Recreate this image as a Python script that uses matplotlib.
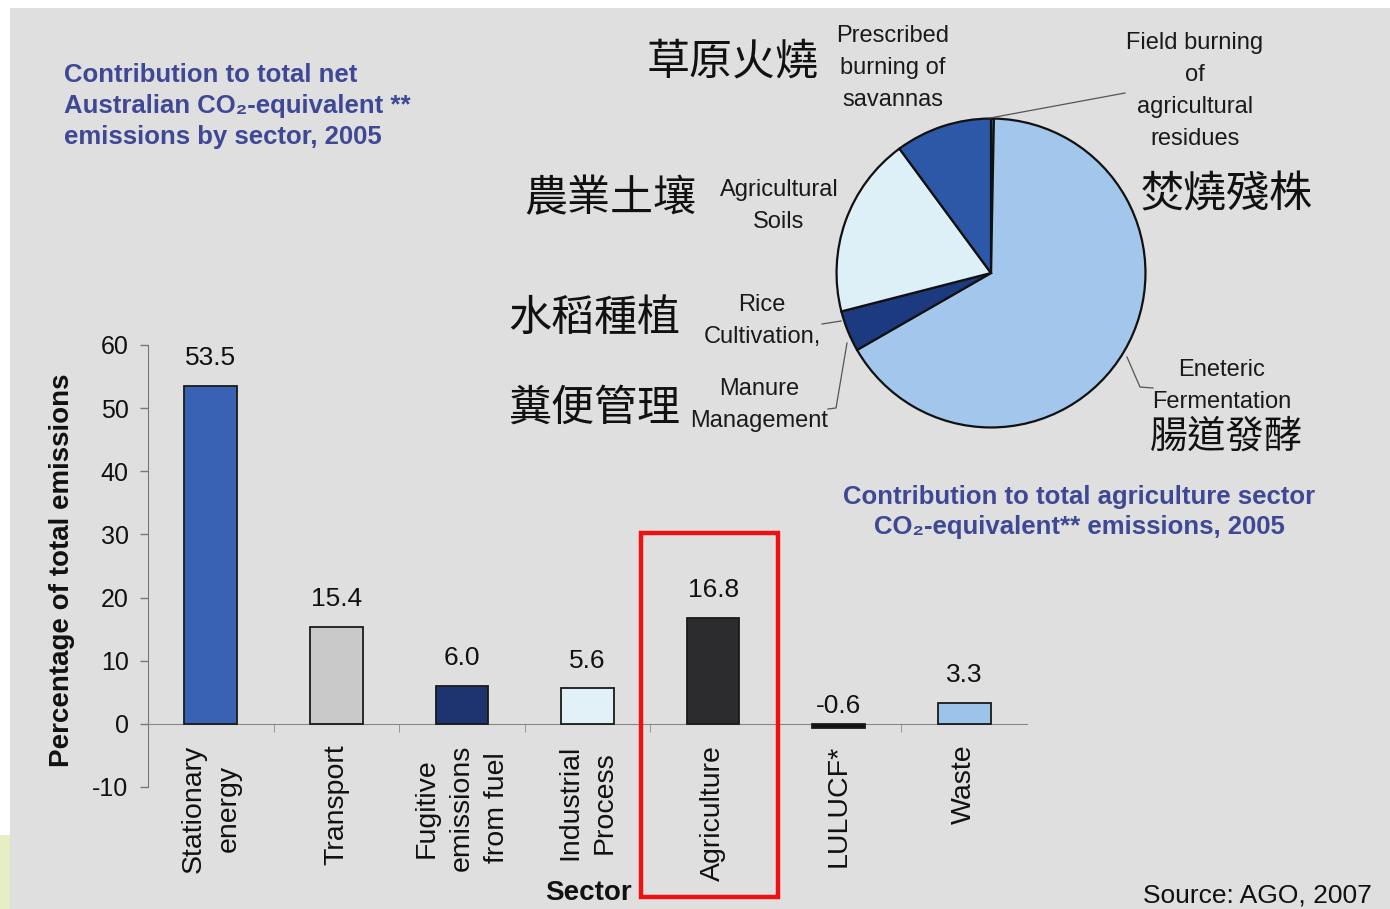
import matplotlib
matplotlib.use("Agg")
import matplotlib.pyplot as plt
from matplotlib.patches import Rectangle
from matplotlib.lines import Line2D
import numpy as np

plt.rcParams['font.family'] = ['Liberation Sans', 'Noto Sans CJK TC', 'DejaVu Sans']
plt.rcParams['axes.unicode_minus'] = False

# --- data -------------------------------------------------------------
sectors = ["Stationary\nenergy", "Transport", "Fugitive\nemissions\nfrom fuel",
           "Industrial\nProcess", "Agriculture", "LULUCF*", "Waste"]
shares = [53.5, 15.4, 6.0, 5.6, 16.8, -0.6, 3.3]
bar_colors = ["#3a62b4", "#c9c9c9", "#1d3470", "#e2f1f8", "#2c2c2e", "#111111", "#9cc4ea"]
y_ticks = [-10, 0, 10, 20, 30, 40, 50, 60]

ag_parts = ["Field burning of agricultural residues", "Enteric fermentation",
            "Rice cultivation, manure management", "Agricultural soils",
            "Prescribed burning of savannas"]
ag_shares = [0.3, 66.4, 4.3, 18.9, 10.1]
ag_colors = ["#6f92cc", "#a3c7ec", "#1c3a80", "#def0f7", "#2d58a8"]

W, H = 1390, 909
BG = "#dfdfdf"
TITLE_C = "#3e4894"


def fx(x):
    return x / W


def fy(y):
    return 1 - y / H


fig = plt.figure(figsize=(W / 100, H / 100), dpi=100, facecolor="white")

# grey slide background with white margin
fig.patches.append(Rectangle((fx(10), 0), 1, fy(8), transform=fig.transFigure,
                             facecolor=BG, edgecolor="none", zorder=-10))
fig.patches.append(Rectangle((0, 0), fx(10), fy(835), transform=fig.transFigure,
                             facecolor="#e6efc4", edgecolor="none", zorder=-10))

# --- bar chart --------------------------------------------------------
ax = fig.add_axes([fx(148), fy(787), (1027 - 148) / W, (787 - 345) / H])
ax.set_facecolor("none")
x = np.arange(len(sectors))
ax.bar(x, shares, width=0.42, color=bar_colors, edgecolor="#1a1a1a", linewidth=1.3, zorder=3)

for i, v in enumerate(shares):
    off = 15 if v > 0 else 8
    ax.annotate(f"{v:.1f}", xy=(i, max(v, 0)), xytext=(0, off), textcoords="offset points",
                ha="center", va="baseline", fontsize=19, color="#111111")

ax.set_xlim(-0.5, len(sectors) - 0.5)
ax.set_ylim(-10, 60)
ax.set_yticks(y_ticks)
ax.tick_params(axis="y", length=6, width=1, color="#777777", labelsize=18, pad=8, labelcolor="#111111")
for s in ["top", "right"]:
    ax.spines[s].set_visible(False)
ax.spines["left"].set_color("#777777")
ax.spines["bottom"].set_position(("data", 0))
ax.spines["bottom"].set_color("#888888")
ax.set_xticks(x)
ax.set_xticklabels(sectors, rotation=90, fontsize=20.5, color="#111111", linespacing=1.45)
ax.set_xticks(x[:-1] + 0.5, minor=True)
ax.tick_params(axis="x", which="major", length=0, pad=15)
ax.tick_params(axis="x", which="minor", length=6, color="#888888")
for lab in ax.get_xticklabels():
    lab.set_multialignment("center")

fig.text(fx(62), fy(570), "Percentage of total emissions", rotation=90, ha="center", va="center",
         fontsize=20, fontweight="bold", color="#111111")
fig.text(fx(588), fy(893), "Sector", ha="center", va="center", fontsize=20,
         fontweight="bold", color="#111111")

fig.text(fx(64), fy(106), "Contribution to total net\nAustralian CO\u2082-equivalent **\nemissions by sector, 2005",
         ha="left", va="center", fontsize=18.5, fontweight="bold", color=TITLE_C, linespacing=1.35)

# highlight box around agriculture
fig.patches.append(Rectangle((fx(641), fy(897)), (778 - 641) / W, (897 - 533) / H,
                             transform=fig.transFigure, facecolor="none",
                             edgecolor="#ee1111", linewidth=3.2, zorder=20))

# --- pie chart --------------------------------------------------------
cx, cy, r = 991, 273, 156
pax = fig.add_axes([fx(cx - r), fy(cy + r), 2 * r / W, 2 * r / H])
pax.pie(ag_shares, colors=ag_colors, startangle=90, counterclock=False, radius=1,
        wedgeprops=dict(edgecolor="#111111", linewidth=1.6))
pax.set_xlim(-1.01, 1.01)
pax.set_ylim(-1.01, 1.01)
pax.axis("off")

fig.text(fx(1079), fy(512), "Contribution to total agriculture sector\nCO\u2082-equivalent** emissions, 2005",
         ha="center", va="center", fontsize=18.5, fontweight="bold", color=TITLE_C, linespacing=1.35)

lab_kw = dict(ha="center", va="center", fontsize=17, color="#1a1a1a", linespacing=1.58)
fig.text(fx(893), fy(68), "Prescribed\nburning of\nsavannas", **lab_kw)
fig.text(fx(1195), fy(91), "Field burning\nof\nagricultural\nresidues", **lab_kw)
fig.text(fx(779), fy(206), "Agricultural\nSoils", **lab_kw)
fig.text(fx(762), fy(321), "Rice\nCultivation,", **lab_kw)
fig.text(fx(759), fy(405), "Manure\nManagement", **lab_kw)
fig.text(fx(1222), fy(386), "Eneteric\nFermentation", **lab_kw)

zh_kw = dict(ha="center", va="center", fontsize=31, color="#111111", fontweight="light")
fig.text(fx(733), fy(64), "草原火燒", **zh_kw)
fig.text(fx(610), fy(200), "農業土壤", **zh_kw)
fig.text(fx(594), fy(320), "水稻種植", **zh_kw)
fig.text(fx(594), fy(410), "糞便管理", **zh_kw)
fig.text(fx(1227), fy(196), "焚燒殘株", **zh_kw)
fig.text(fx(1226), fy(438), "腸道發酵", ha="center", va="center", fontsize=27.5,
         color="#111111", fontweight="light")

# leader lines
leaders = [
    [(1125, 93), (990, 118)],
    [(822, 324), (841, 321)],
    [(847, 343), (836, 408), (828, 409)],
    [(1127, 357), (1140, 387), (1153, 388)],
]
for pts in leaders:
    xs = [fx(p[0]) for p in pts]
    ys = [fy(p[1]) for p in pts]
    fig.lines.append(Line2D(xs, ys, transform=fig.transFigure, color="#555555", linewidth=0.9))

fig.text(fx(1143), fy(907), "Source: AGO, 2007", ha="left", va="bottom", fontsize=19, color="#111111")

fig.savefig("out.png", dpi=100, facecolor=fig.get_facecolor())
